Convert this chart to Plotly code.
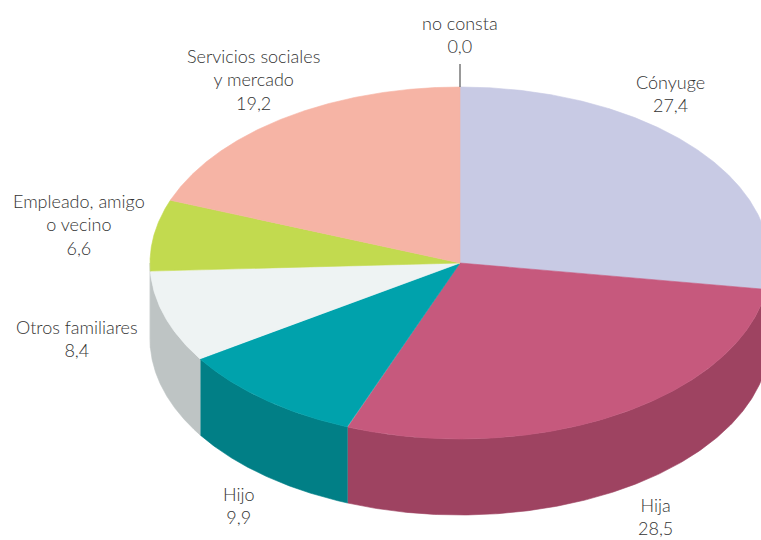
import numpy as np
import plotly.graph_objects as go

categories = ["Cónyuge", "Hija", "Hijo", "Otros familiares", "Empleado, amigo<br>o vecino", "Servicios sociales<br>y mercado"]
values = [27.4, 28.5, 9.9, 8.4, 6.6, 19.2]
missing_label = "no consta"
missing_value = 0.0

top_colors = ["#C8CAE4", "#C6597D", "#00A2AC", "#EEF3F3", "#C2DA4F", "#F6B4A5"]
side_colors = ["#8F90A8", "#9E4361", "#017F86", "#BEC4C4", "#BEC4C4", "#B8867A"]

# label anchor positions in pixels (centre x, top y of the text block)
label_pos = [(670, 70), (655, 493), (239, 482), (77, 315), (78.5, 189), (253.5, 44)]

W, H = 761, 540
CX, CY, RX, RY, DEPTH = 460, 263, 310, 176, 76


def pt(a, dy=0.0):
    return CX + RX * np.sin(a), CY - RY * np.cos(a) + dy


fig = go.Figure()
edges = np.cumsum([0] + values) / sum(values) * 2 * np.pi

# side walls (only the front half of the rim is visible)
for i, c in enumerate(side_colors):
    a0, a1 = max(edges[i], np.pi / 2), min(edges[i + 1], 3 * np.pi / 2)
    if a1 <= a0:
        continue
    t = np.linspace(a0, a1, 200)
    x1, y1 = pt(t)
    x2, y2 = pt(t[::-1], DEPTH)
    fig.add_trace(go.Scatter(x=np.r_[x1, x2], y=np.r_[y1, y2], fill="toself", mode="lines",
                             line=dict(width=0.6, color=c), fillcolor=c, hoverinfo="skip", showlegend=False))

# top faces
for i, c in enumerate(top_colors):
    t = np.linspace(edges[i], edges[i + 1], 300)
    x, y = pt(t)
    fig.add_trace(go.Scatter(x=np.r_[CX, x, CX], y=np.r_[CY, y, CY], fill="toself", mode="lines",
                             line=dict(width=0.6, color=c), fillcolor=c, hoverinfo="skip", showlegend=False))

# leader for the empty category
fig.add_trace(go.Scatter(x=[CX, CX], y=[64, CY - RY], mode="lines",
                         line=dict(width=1.2, color="#555555"), hoverinfo="skip", showlegend=False))

FONT = dict(family="Lato", size=18, color="#333333", weight=300)


def fmt(v):
    return f"{v:.1f}".replace(".", ",")


for cat, v, (lx, ly) in zip(categories, values, label_pos):
    fig.add_annotation(x=lx, y=ly, text=f"{cat}<br>{fmt(v)}", showarrow=False, xanchor="center",
                       yanchor="top", align="center", font=FONT, borderpad=0)
fig.add_annotation(x=460, y=11, text=f"{missing_label}<br>{fmt(missing_value)}", showarrow=False,
                   xanchor="center", yanchor="top", align="center", font=FONT, borderpad=0)

fig.update_layout(width=W, height=H, margin=dict(l=0, r=0, t=0, b=0), autosize=False,
                  paper_bgcolor="white", plot_bgcolor="white",
                  xaxis=dict(range=[0, W], visible=False, fixedrange=True),
                  yaxis=dict(range=[H, 0], visible=False, fixedrange=True))
fig.write_html("out.html", config=dict(displayModeBar=False),
               post_script="document.body.style.margin='0';document.documentElement.style.overflow='hidden';")
